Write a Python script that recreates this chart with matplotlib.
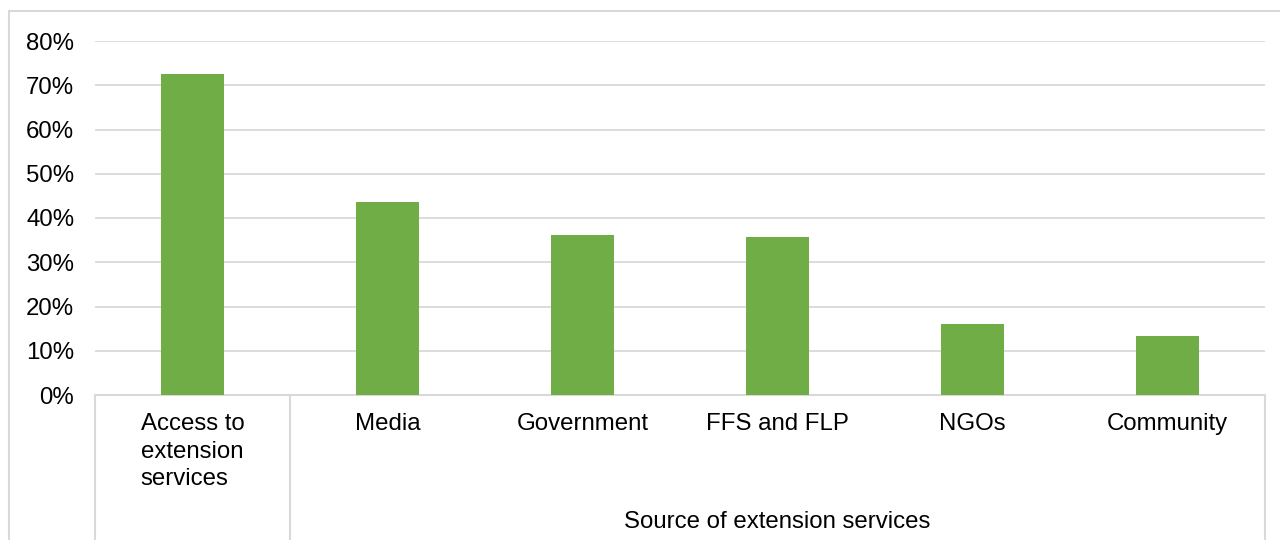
import numpy as np
import matplotlib.pyplot as plt
from matplotlib.patches import Rectangle
from matplotlib.lines import Line2D
from matplotlib.ticker import FuncFormatter

plt.rcParams['font.family'] = ['Liberation Sans', 'DejaVu Sans']

# Share of respondents by source of extension services
categories = ["Access to\nextension\nservices", "Media", "Government",
              "FFS and FLP", "NGOs", "Community"]
shares = [0.726, 0.437, 0.362, 0.357, 0.161, 0.133]
group_label = "Source of extension services"
y_ticks = [0, 0.1, 0.2, 0.3, 0.4, 0.5, 0.6, 0.7, 0.8]

W, H = 1280, 540
grey = "#D9D9D9"
green = "#70AD47"
fs = 17.3

fig = plt.figure(figsize=(W / 100, H / 100), dpi=100)

# plot area in pixel terms: left 95, right 1265, top 41, bottom 395
ax = fig.add_axes([95 / W, (H - 395) / H, 1170 / W, 354 / H])
x = np.arange(len(categories))
ax.bar(x, shares, width=0.32, color=green, zorder=3)

ax.set_xlim(-0.5, len(categories) - 0.5)
ax.set_ylim(0, 0.8)
ax.set_yticks(y_ticks)
ax.yaxis.set_major_formatter(FuncFormatter(lambda v, p: f"{v * 100:.0f}%"))
ax.tick_params(axis='y', length=0, pad=15, labelsize=fs, labelcolor="#000000")
ax.grid(axis='y', color=grey, linewidth=1.3, zorder=0)
for s in ["top", "right", "left"]:
    ax.spines[s].set_visible(False)
ax.spines["bottom"].set_color(grey)
ax.spines["bottom"].set_linewidth(1.5)

ax.set_xticks(x)
ax.set_xticklabels(categories, fontsize=fs, linespacing=1.33,
                   multialignment='left')
ax.tick_params(axis='x', length=0, pad=13)

# category group separators below the axis
trans = ax.get_xaxis_transform()
bottom = -145 / 354
for xs in [-0.5, 0.5, len(categories) - 0.5]:
    ax.add_line(Line2D([xs, xs], [0, bottom], transform=trans, color=grey,
                       linewidth=1.5, clip_on=False))

ax.text((0.5 + len(categories) - 0.5) / 2, (395 - 522) / 354, group_label,
        transform=trans, ha='center', va='center', fontsize=fs)

# chart border
fig.add_artist(Rectangle((9 / W, -0.1), 1.2, (H - 11) / H + 0.1,
                         transform=fig.transFigure, fill=False,
                         edgecolor=grey, linewidth=1.5))

fig.savefig("out.png", dpi=100)
